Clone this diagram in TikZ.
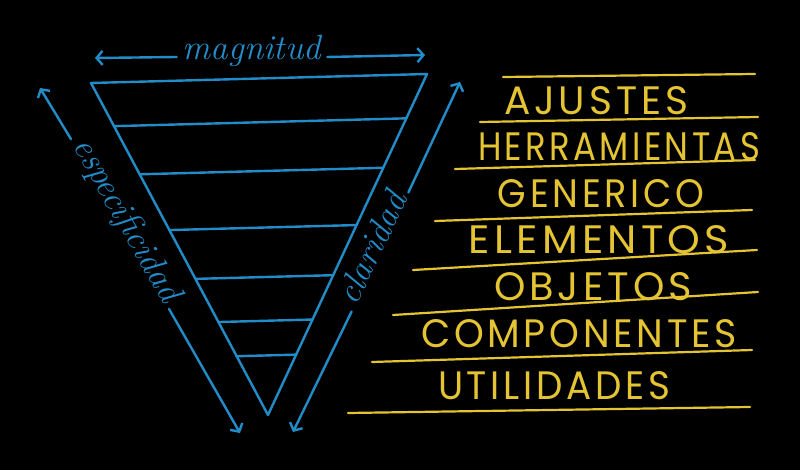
\documentclass[tikz,border=0pt]{standalone}
\usepackage{fontspec}
\usetikzlibrary{arrows.meta,calc}
\newfontfamily\letrero{Poppins}[LetterSpace=10]
\definecolor{tiza}{RGB}{34,140,200}
\definecolor{amarillo}{RGB}{228,196,50}
\newcommand{\rotulo}[2]{\resizebox{#1pt}{28pt}{#2}}

\begin{document}
\begin{tikzpicture}[x=1pt,y=-1pt,
    azul/.style={draw=tiza,line width=2.4pt,line cap=round,line join=round},
    flecha/.style={azul,-{Straight Barb[length=6pt,width=14pt]}},
    etiqueta/.style={text=tiza,font=\fontsize{35}{35}\selectfont\itshape,inner sep=6pt},
    linea/.style={draw=amarillo,line width=2.2pt,line cap=round},
    capa/.style={text=amarillo,font=\fontsize{34}{34}\selectfont\letrero,inner sep=0pt}]
  \fill[black] (0,0) rectangle (800,470);

  % piramide invertida
  \coordinate (tl) at (91,83);
  \coordinate (tr) at (427,74);
  \coordinate (apex) at (268,415);
  \draw[azul] (tl) -- (tr) -- (apex) -- cycle;
  \foreach \t in {0.13,0.275,0.443,0.59,0.72,0.823}
    \draw[azul] ($(tl)!\t!(apex)$) -- ($(tr)!\t!(apex)$);

  % ejes
  \node[etiqueta,anchor=mid] (magnitud) at (252,57) {magnitud};
  \coordinate (magIzq) at (95,58);
  \coordinate (magDer) at (425,55);
  \draw[flecha] (magnitud.mid west) -- (magIzq);
  \draw[flecha] (magnitud.mid east) -- (magDer);

  \node[etiqueta,rotate=-60,anchor=mid] (especificidad) at (120,224) {especificidad};
  \coordinate (espArriba) at (40,88);
  \coordinate (espAbajo) at (240,433);
  \draw[flecha] (especificidad.mid west) -- (espArriba);
  \draw[flecha] (especificidad.mid east) -- (espAbajo);

  \node[etiqueta,rotate=64.5,anchor=mid] (claridad) at (380,252) {claridad};
  \coordinate (clarAbajo) at (293,432);
  \coordinate (clarArriba) at (460,82);
  \draw[flecha] (claridad.mid west) -- (clarAbajo);
  \draw[flecha] (claridad.mid east) -- (clarArriba);

  % capas
  \foreach \xa/\ya/\xb/\yb in {503/77/755/74, 480/122/758/117, 455/169/755/160,
      435/221/752/210, 413/270/757/250, 393/315/758/292, 372/362/752/350,
      348/413/750/407}
    \draw[linea] (\xa,\ya) -- (\xb,\yb);

  \node[capa] (ajustes) at (596,101) {\rotulo{184}{AJUSTES}};
  \node[capa] (herramientas) at (619,147) {\rotulo{282}{HERRAMIENTAS}};
  \node[capa] (generico) at (601,194) {\rotulo{206}{GENERICO}};
  \node[capa] (elementos) at (599,240) {\rotulo{260}{ELEMENTOS}};
  \node[capa] (objetos) at (593,287) {\rotulo{198}{OBJETOS}};
  \node[capa] (componentes) at (579,334) {\rotulo{316}{COMPONENTES}};
  \node[capa] (utilidades) at (554,386) {\rotulo{232}{UTILIDADES}};
\end{tikzpicture}
\end{document}
